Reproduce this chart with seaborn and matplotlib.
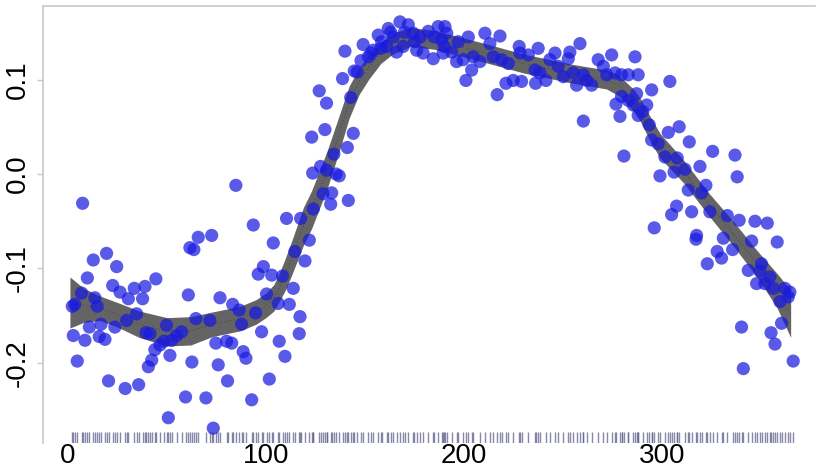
import numpy as np
import pandas as pd
import matplotlib
matplotlib.use("Agg")
import matplotlib.pyplot as plt
import seaborn as sns

# ---- data ----
day_early = [7.4, 84.8, 93.6, 103.7, 65.8, 72.6, 61.6, 63.6, 19.5, 12.8, 24.6, 9.8, 44.4, 22.6, 26.3,
             33.5, 38.9, 30.5, 37.7, 6.9, 13.6, 2.2, 3.5, 14.8, 34.7, 29.6, 16.7, 23.7, 10.8, 2.7,
             8.6, 15.8, 18.7, 4.7, 20.5, 28.9, 35.7, 49.8, 39.4, 41.4, 43.9, 46.5, 48.5, 52.4, 54.9,
             57.4, 51.5, 42.3, 40.6, 60.8, 64.6, 71.7, 62.6, 59.4, 69.7, 50.7, 73.4, 76.8, 74.7, 80.1,
             82.7, 75.9, 80.6, 83.2, 86.5, 87.7, 88.5, 89.9, 92.8, 94.8, 97.8, 101.7, 96.1, 98.7, 102.9,
             100.3, 106.2, 106.7]
val_early = [-0.031, -0.012, -0.054, -0.073, -0.067, -0.065, -0.078, -0.080, -0.084, -0.091, -0.098,
             -0.110, -0.111, -0.118, -0.125, -0.121, -0.119, -0.132, -0.132, -0.126, -0.131, -0.140,
             -0.138, -0.140, -0.148, -0.155, -0.159, -0.162, -0.162, -0.171, -0.176, -0.172, -0.175,
             -0.198, -0.219, -0.227, -0.223, -0.160, -0.168, -0.169, -0.186, -0.181, -0.177, -0.176,
             -0.171, -0.167, -0.192, -0.197, -0.204, -0.128, -0.153, -0.155, -0.199, -0.236, -0.237,
             -0.258, -0.269, -0.131, -0.179, -0.177, -0.179, -0.202, -0.219, -0.138, -0.144, -0.159,
             -0.188, -0.195, -0.239, -0.147, -0.167, -0.217, -0.106, -0.098, -0.107, -0.127, -0.137,
             -0.177]

day_rise = [110.4, 117.5, 123.9, 128.9, 133.2, 132.7, 121.9, 114.6, 119.7, 108.4, 113.8, 111.8, 116.8,
            109.6, 117.2, 141.6, 123.6, 127.6, 130.6, 135.4, 137.0, 134.3, 141.1, 123.1, 129.8, 144.1,
            126.9, 130.6, 142.8, 138.7, 144.6, 146.1, 139.9, 148.0, 149.1, 151.7, 154.2, 156.7, 158.4,
            161.8, 160.9, 164.3, 167.7, 166.0, 169.3, 153.0, 158.0, 163.0, 170.0]
val_rise = [-0.047, -0.047, -0.037, -0.021, -0.020, -0.032, -0.070, -0.082, -0.092, -0.108, -0.121,
            -0.138, -0.169, -0.193, -0.151, -0.028, 0.001, 0.008, 0.004, 0.000, -0.002, 0.021, 0.028,
            0.039, 0.047, 0.043, 0.088, 0.075, 0.081, 0.101, 0.109, 0.108, 0.130, 0.120, 0.137, 0.124,
            0.131, 0.147, 0.140, 0.154, 0.135, 0.145, 0.161, 0.129, 0.135, 0.128, 0.133, 0.150, 0.150]

day_plateau = [171.9, 174.4, 176.1, 179.4, 182.0, 184.5, 187.0, 188.7, 191.3, 193.8, 197.1, 196.3,
               175.0, 178.0, 185.0, 190.0, 190.4, 189.5, 202.2, 199.6, 204.7, 208.1, 203.9, 201.0,
               210.6, 213.1, 218.2, 214.8, 219.0, 222.4, 216.8, 221.2, 224.9, 229.1, 227.9, 228.3,
               232.5, 237.5, 235.9, 236.2, 238.4, 241.4, 243.4, 246.0, 247.6, 250.2, 252.7, 253.5,
               256.9, 258.6, 255.2, 260.3, 262.0, 264.5, 260.3, 267.8, 270.4, 274.6, 272.1, 276.3,
               279.6, 283.0, 286.4, 288.0, 279.6, 283.0, 285.5, 276.8, 278.8, 280.8, 288.0]
val_plateau = [0.158, 0.149, 0.131, 0.128, 0.151, 0.122, 0.156, 0.142, 0.149, 0.129, 0.140, 0.119,
               0.140, 0.145, 0.145, 0.135, 0.156, 0.128, 0.145, 0.121, 0.124, 0.119, 0.110, 0.099,
               0.149, 0.138, 0.146, 0.124, 0.121, 0.117, 0.084, 0.096, 0.099, 0.098, 0.135, 0.128,
               0.126, 0.133, 0.110, 0.096, 0.107, 0.099, 0.121, 0.128, 0.114, 0.103, 0.122, 0.129,
               0.094, 0.138, 0.107, 0.105, 0.099, 0.094, 0.056, 0.121, 0.114, 0.126, 0.105, 0.107,
               0.105, 0.105, 0.124, 0.105, 0.082, 0.078, 0.073, 0.074, 0.061, 0.019, 0.062]

day_decline = [294.8, 304.0, 287.2, 290.3, 292.3, 293.6, 294.8, 303.2, 308.7, 298.1, 313.8, 301.5,
               307.7, 299.0, 306.1, 311.6, 319.2, 325.6, 336.9, 338.0, 313.3, 320.0, 322.2, 307.4,
               304.9, 315.0, 324.2, 296.1, 317.5, 317.2, 333.0, 339.0, 347.0, 353.2, 331.0, 335.7,
               345.3, 358.2, 327.9, 330.1, 322.9, 343.6, 350.3, 349.5, 347.8, 352.0, 354.5, 356.2,
               362.1, 364.6, 363.8, 359.6, 360.4, 340.2, 355.1, 357.1, 366.3, 341.1]
val_decline = [0.089, 0.098, 0.085, 0.066, 0.073, 0.052, 0.036, 0.044, 0.050, 0.032, 0.034, 0.018,
               0.017, -0.002, 0.002, 0.005, 0.008, 0.024, 0.020, -0.003, -0.017, -0.020, -0.012, -0.034,
               -0.043, -0.040, -0.040, -0.057, -0.065, -0.069, -0.044, -0.049, -0.050, -0.052, -0.068,
               -0.080, -0.071, -0.072, -0.082, -0.089, -0.095, -0.102, -0.095, -0.103, -0.116, -0.116,
               -0.109, -0.121, -0.121, -0.125, -0.130, -0.135, -0.158, -0.162, -0.168, -0.180, -0.198,
               -0.206]

# smooth fit and its confidence band
fit_day = [1, 8, 16, 25, 36, 50, 62, 73, 87, 95, 100, 104, 107, 110, 113, 116, 119, 123, 126, 131,
           137, 142, 147, 152, 158, 164, 173, 185, 198, 209, 230, 255, 272, 278, 282, 286, 289, 294,
           299, 311, 324, 336, 348, 358, 365]
fit_mid = [-0.136, -0.139, -0.142, -0.149, -0.159, -0.167, -0.166, -0.159, -0.153, -0.146, -0.139,
           -0.131, -0.119, -0.105, -0.089, -0.072, -0.055, -0.038, -0.022, 0.005, 0.043, 0.076, 0.098,
           0.1135, 0.128, 0.138, 0.145, 0.142, 0.135, 0.129, 0.117, 0.106, 0.100, 0.094, 0.086, 0.077,
           0.068, 0.048, 0.030, 0.0025, -0.033, -0.063, -0.095, -0.123, -0.148]
fit_half = [0.027, 0.018, 0.013, 0.013, 0.014, 0.015, 0.015, 0.013, 0.013, 0.013, 0.013, 0.014, 0.015,
            0.017, 0.018, 0.019, 0.020, 0.020, 0.020, 0.020, 0.019, 0.017, 0.014, 0.013, 0.011, 0.011,
            0.010, 0.010, 0.010, 0.010, 0.010, 0.010, 0.010, 0.011, 0.011, 0.012, 0.012, 0.013, 0.013,
            0.012, 0.012, 0.013, 0.014, 0.018, 0.025]

x_ticks = [0, 100, 200, 300]
y_ticks = [-0.2, -0.1, 0.0, 0.1]
y_ticklabels = ["-0.2", "-0.1", "0.0", "0.1"]

# ---- build tables ----
pts = pd.DataFrame({
    "day": day_early + day_rise + day_plateau + day_decline,
    "value": val_early + val_rise + val_plateau + val_decline,
})
fit = pd.DataFrame({"day": fit_day, "mid": fit_mid, "half": fit_half})
fit["lo"] = fit["mid"] - fit["half"]
fit["hi"] = fit["mid"] + fit["half"]

# ---- plot ----
sns.set_style("white")
plt.rcParams["font.family"] = ["Liberation Sans", "DejaVu Sans"]

fig = plt.figure(figsize=(8.16, 4.72), dpi=100)
ax = fig.add_axes([43 / 816, 1 - 443 / 472, (815 - 43) / 816, (443 - 6) / 472])

ax.fill_between(fit["day"], fit["lo"], fit["hi"], color="#646464", lw=0, zorder=1)
sns.lineplot(data=fit, x="day", y="mid", ax=ax, color="#3a3a3a", lw=0.6,
             linestyle=(0, (1, 3)), zorder=2)
sns.scatterplot(data=pts, x="day", y="value", ax=ax, color="#1a1ae0", alpha=0.72,
                s=90, edgecolor="none", zorder=3)
sns.rugplot(data=pts, x="day", ax=ax, height=0.026, color="#60608e", alpha=0.75,
            lw=1.1, zorder=2)

ax.set_xlim(-12.6, 377.3)
ax.set_ylim(-0.2847, 0.1778)
ax.set_xticks(x_ticks)
ax.set_xticklabels([str(t) for t in x_ticks])
ax.set_yticks(y_ticks)
ax.set_yticklabels(y_ticklabels, rotation=90, va="center")
ax.set_xlabel("")
ax.set_ylabel("")

for side in ["bottom", "right"]:
    ax.spines[side].set_visible(False)
for side in ["left", "top"]:
    ax.spines[side].set_visible(True)
    ax.spines[side].set_color("#c8c8c8")
    ax.spines[side].set_linewidth(1.2)

ax.tick_params(axis="x", length=0, pad=0, labelsize=20, colors="black")
ax.tick_params(axis="y", left=True, length=4, width=1, color="#c8c8c8", pad=5,
               labelsize=20, labelcolor="black")

fig.savefig("out.png", dpi=100)
